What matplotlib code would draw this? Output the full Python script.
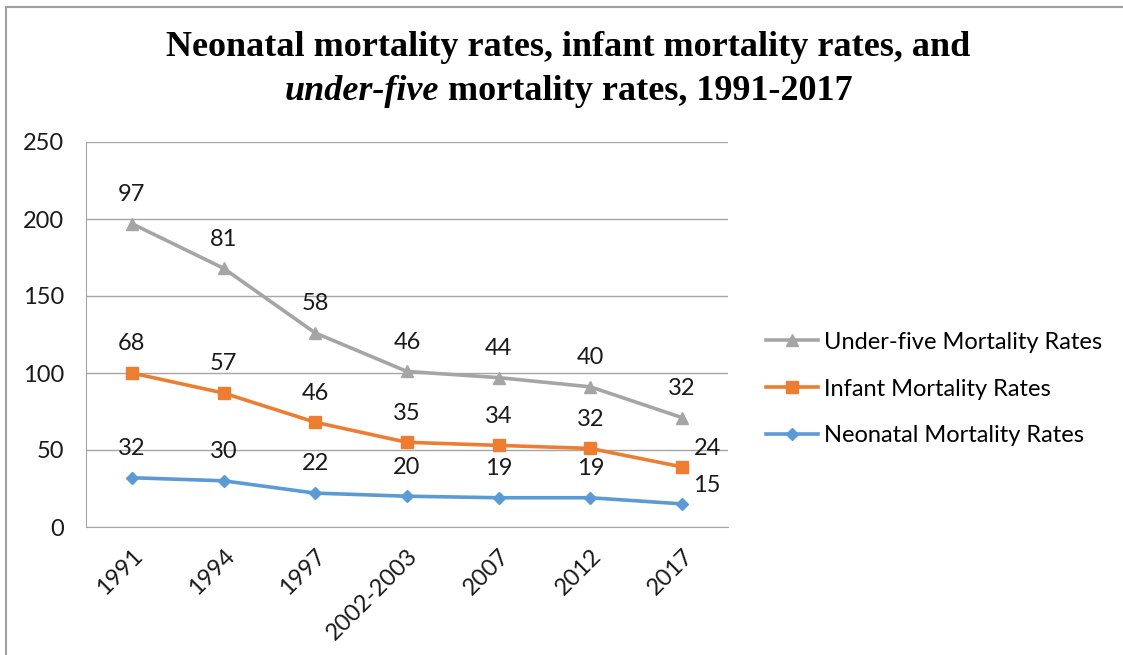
import matplotlib.pyplot as plt
from matplotlib.lines import Line2D
import numpy as np

years = ["1991", "1994", "1997", "2002-2003", "2007", "2012", "2017"]
neonatal = [32, 30, 22, 20, 19, 19, 15]
infant = [68, 57, 46, 35, 34, 32, 24]
under_five = [97, 81, 58, 46, 44, 40, 32]

gray = "#A5A5A5"
orange = "#ED7D31"
blue = "#5B9BD5"
sans = ["Lato", "DejaVu Sans"]

W, H = 1123, 655
fig = plt.figure(figsize=(W / 100, H / 100), dpi=100)
ax = fig.add_axes([86 / W, 1 - 527 / H, (728 - 86) / W, (527 - 142) / H])

x = np.arange(len(years))
# stacked lines: each series sits on top of the previous one
s1 = np.array(neonatal)
s2 = s1 + np.array(infant)
s3 = s2 + np.array(under_five)

ax.plot(x, s3, color=gray, lw=2.6, marker="^", ms=9, zorder=3)
ax.plot(x, s2, color=orange, lw=2.6, marker="s", ms=8, zorder=3)
ax.plot(x, s1, color=blue, lw=2.6, marker="D", ms=6.5, zorder=3)

for series, vals in ((s3, under_five), (s2, infant), (s1, neonatal)):
    for i, (y, v) in enumerate(zip(series, vals)):
        dx, dy = 0, 21
        if i == len(x) - 1 and series is not s3:
            dx, dy = 18, 13
        ax.annotate(str(v), (i, y), xytext=(dx, dy), textcoords="offset points",
                    ha="center", va="center", fontsize=17, family=sans, color="#1a1a1a")

ax.set_xlim(-0.5, len(x) - 0.5)
ax.set_ylim(0, 250)
ax.set_yticks(range(0, 251, 50))
ax.yaxis.grid(True, color="#A6A6A6", lw=1)
ax.set_axisbelow(True)
for s in ("top", "right"):
    ax.spines[s].set_visible(False)
ax.spines["left"].set_color("#A6A6A6")
ax.spines["bottom"].set_color("#A6A6A6")
ax.tick_params(length=0, labelsize=17, colors="#1a1a1a")
ax.tick_params(axis="x", pad=13)
ax.tick_params(axis="y", pad=16)
ax.set_xticks(x)
ax.set_xticklabels(years, rotation=45, ha="right", rotation_mode="anchor")
for lab in ax.get_xticklabels() + ax.get_yticklabels():
    lab.set_family(sans)

handles = [
    Line2D([], [], color=gray, lw=2.6, marker="^", ms=9),
    Line2D([], [], color=orange, lw=2.6, marker="s", ms=8),
    Line2D([], [], color=blue, lw=2.6, marker="D", ms=6.5),
]
labels = ["Under-five Mortality Rates", "Infant Mortality Rates", "Neonatal Mortality Rates"]
fig.legend(handles, labels, loc="center left", bbox_to_anchor=(766 / W, 1 - 389 / H),
           frameon=False, prop={"family": sans, "size": 17}, handlelength=2.2,
           handletextpad=0.25, labelspacing=1.1, borderpad=0, borderaxespad=0)

fs = 26
fig.text(0.506, 1 - 48 / H, "Neonatal mortality rates, infant mortality rates, and",
         ha="center", va="center", fontsize=fs, fontweight="bold", family="Liberation Serif")
t1 = fig.text(0.0, 1 - 92 / H, "under-five", ha="left", va="center", fontsize=fs,
              fontweight="bold", fontstyle="italic", family="Liberation Serif")
t2 = fig.text(0.0, 1 - 92 / H, " mortality rates, 1991-2017", ha="left", va="center",
              fontsize=fs, fontweight="bold", family="Liberation Serif")
fig.canvas.draw()
r = fig.canvas.get_renderer()
w1 = t1.get_window_extent(r).width
w2 = t2.get_window_extent(r).width
start = 0.506 * W - (w1 + w2) / 2
t1.set_x(start / W)
t2.set_x((start + w1) / W)

# outer frame lines (top and left only)
fig.add_artist(Line2D([5.5 / W, 1], [1 - 6.5 / H, 1 - 6.5 / H], color="#A0A0A0", lw=1.5))
fig.add_artist(Line2D([5.5 / W, 5.5 / W], [0, 1 - 6.5 / H], color="#A0A0A0", lw=1.5))

fig.savefig("out.png", dpi=100)
